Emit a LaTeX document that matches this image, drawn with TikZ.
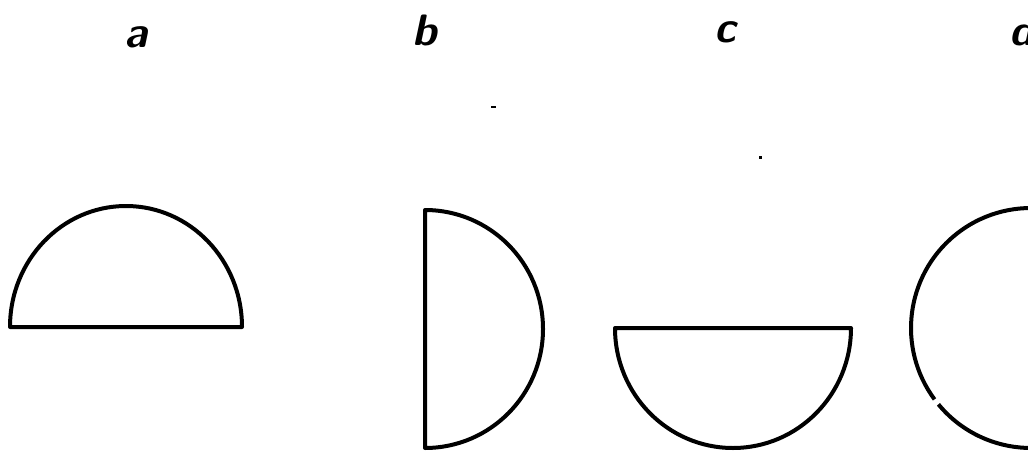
\documentclass[tikz,border=0pt]{standalone}
\begin{document}
\begin{tikzpicture}[x=1pt,y=1pt,
  outline/.style={line width=4pt, line join=round, line cap=round},
  lab/.style={font=\fontsize{44}{44}\selectfont\sffamily\bfseries\itshape, inner sep=0pt, anchor=base},
  speck/.style={fill=black, draw=none}]
\useasboundingbox (0,0) rectangle (1028,451);
\clip (0,0) rectangle (1028,451);
% labels
\node[lab] (la) at (136,403) {a};
\node[lab] (lb) at (425,406) {b};
\node[lab] (lc) at (725,408) {c};
\node[lab, anchor=base west] (ld) at (1009,406) {d};
% shape a
\draw[outline] (10,124) -- (242,124) arc[start angle=0, end angle=180, x radius=116, y radius=121] -- cycle;
% shape b
\draw[outline] (425,3) -- (425,241) arc[start angle=90, end angle=-90, x radius=118, y radius=119] -- cycle;
% shape c
\draw[outline] (615,123) -- (851,123) arc[start angle=0, end angle=-180, x radius=118, y radius=120] -- cycle;
% shape d
\coordinate (dc) at (1031,123);
\draw[outline, line cap=butt] (dc) ++(219.5:120) arc[start angle=219.5, end angle=576.5, radius=120];
% specks
\fill[speck] (491,343) rectangle (496,345.5);
\fill[speck] (758.5,292.5) rectangle (761.5,295.5);
\end{tikzpicture}
\end{document}
